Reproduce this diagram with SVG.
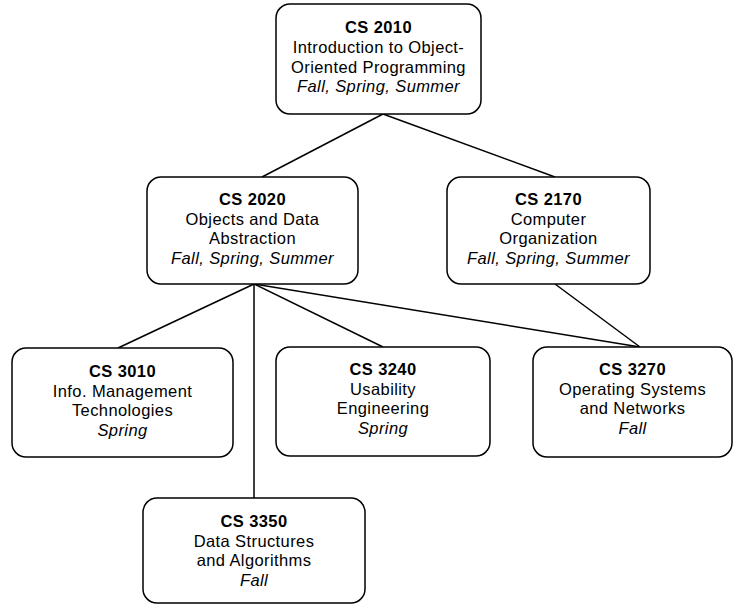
<svg xmlns="http://www.w3.org/2000/svg" width="735" height="605" viewBox="0 0 735 605">
<style>
.box{fill:#fff;stroke:#000;stroke-width:1.5}
.t{font-family:"Liberation Sans",Arial,sans-serif;font-size:16.5px;letter-spacing:0.4px;text-anchor:middle;fill:#000}
.b{font-weight:bold}
.i{font-style:italic}
.c line{stroke:#000;stroke-width:1.5}
</style>
<rect width="735" height="605" fill="#fff"/>
<g class="c" id="connectors">
<line x1="383" y1="114" x2="262" y2="177"/>
<line x1="383" y1="114" x2="555" y2="177"/>
<line x1="254" y1="284" x2="118" y2="348"/>
<line x1="254" y1="284" x2="254" y2="498"/>
<line x1="254" y1="284" x2="383" y2="347"/>
<line x1="254" y1="284" x2="640" y2="347"/>
<line x1="555" y1="284" x2="640" y2="347"/>
</g>
<g id="cs2010">
<rect class="box" x="276" y="4" width="205" height="110" rx="14"/>
<text class="t b" x="378.5" y="33">CS 2010</text>
<text class="t" x="378.5" y="53">Introduction to Object-</text>
<text class="t" x="378.5" y="73">Oriented Programming</text>
<text class="t i" x="378.5" y="92">Fall, Spring, Summer</text>
</g>
<g id="cs2020">
<rect class="box" x="147" y="177" width="211" height="107" rx="14"/>
<text class="t b" x="252.5" y="205">CS 2020</text>
<text class="t" x="252.5" y="224.5">Objects and Data</text>
<text class="t" x="252.5" y="244">Abstraction</text>
<text class="t i" x="252.5" y="263.5">Fall, Spring, Summer</text>
</g>
<g id="cs2170">
<rect class="box" x="447" y="177" width="203" height="107" rx="14"/>
<text class="t b" x="548.5" y="205">CS 2170</text>
<text class="t" x="548.5" y="224.5">Computer</text>
<text class="t" x="548.5" y="244">Organization</text>
<text class="t i" x="548.5" y="263.5">Fall, Spring, Summer</text>
</g>
<g id="cs3010">
<rect class="box" x="12" y="348" width="221" height="109" rx="14"/>
<text class="t b" x="122.5" y="377">CS 3010</text>
<text class="t" x="122.5" y="396.5">Info. Management</text>
<text class="t" x="122.5" y="416">Technologies</text>
<text class="t i" x="122.5" y="435.5">Spring</text>
</g>
<g id="cs3240">
<rect class="box" x="276" y="347" width="214" height="109" rx="14"/>
<text class="t b" x="383" y="375">CS 3240</text>
<text class="t" x="383" y="394.5">Usability</text>
<text class="t" x="383" y="414">Engineering</text>
<text class="t i" x="383" y="433.5">Spring</text>
</g>
<g id="cs3270">
<rect class="box" x="533" y="347" width="199" height="110" rx="14"/>
<text class="t b" x="632.5" y="375">CS 3270</text>
<text class="t" x="632.5" y="394.5">Operating Systems</text>
<text class="t" x="632.5" y="414">and Networks</text>
<text class="t i" x="632.5" y="433.5">Fall</text>
</g>
<g id="cs3350">
<rect class="box" x="143" y="498" width="222" height="105" rx="14"/>
<text class="t b" x="254" y="527">CS 3350</text>
<text class="t" x="254" y="546.5">Data Structures</text>
<text class="t" x="254" y="566">and Algorithms</text>
<text class="t i" x="254" y="585.5">Fall</text>
</g>
</svg>
